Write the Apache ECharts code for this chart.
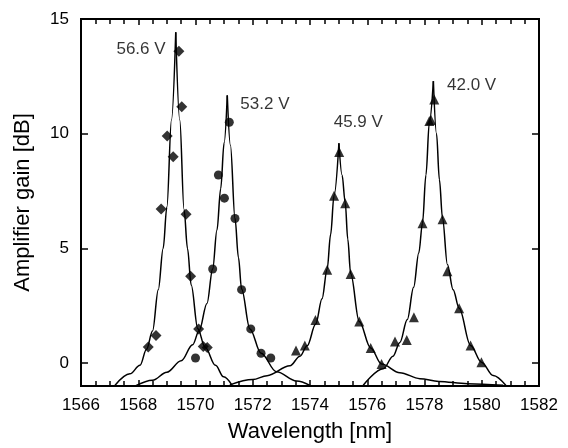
<!DOCTYPE html>
<html>
<head>
<meta charset="utf-8">
<script src="https://cdn.jsdelivr.net/npm/echarts@6/dist/echarts.min.js"></script>
<style>html,body{margin:0;padding:0;background:#fff}#c{width:568px;height:448px}</style>
</head>
<body>
<div id="c"></div>
<script>
// ---- data ----
const xTickLabels = [1566,1568,1570,1572,1574,1576,1578,1580,1582];
const yTickLabels = [0,5,10,15];

// measured points
const pts566 = [[1568.35,0.70],[1568.62,1.20],[1568.80,6.72],[1569.01,9.90],[1569.22,9.00],[1569.42,13.59],[1569.52,11.17],[1569.67,6.49],[1569.83,3.78],[1570.11,1.49],[1570.27,0.72],[1570.41,0.68]];
const pts532 = [[1570.00,0.22],[1570.60,4.10],[1570.80,8.20],[1571.01,7.19],[1571.18,10.50],[1571.38,6.30],[1571.61,3.20],[1571.93,1.49],[1572.29,0.43],[1572.63,0.22]];
const pts459 = [[1573.51,0.55],[1573.82,0.77],[1574.19,1.88],[1574.60,4.07],[1574.84,7.29],[1575.02,9.20],[1575.23,6.97],[1575.42,3.88],[1575.72,1.81],[1576.12,0.66],[1576.50,-0.04]];
const pts420 = [[1576.97,0.94],[1577.38,1.01],[1577.63,2.00],[1577.93,6.09],[1578.17,10.55],[1578.23,10.60],[1578.34,11.49],[1578.63,6.27],[1578.80,4.00],[1579.21,2.39],[1579.61,0.77],[1579.99,0.04]];

// fitted curves
const fit566 = [[1567.19,-0.97],[1567.71,-0.47],[1568.06,-0.10],[1568.29,0.60],[1568.50,1.40],[1568.70,3.20],[1568.87,5.00],[1569.00,6.80],[1569.16,10.60],[1569.31,14.42],
                [1569.45,10.60],[1569.60,6.70],[1569.72,5.00],[1569.85,3.40],[1570.08,1.50],[1570.33,0.70],[1570.70,-0.10],[1570.98,-0.60],[1571.28,-0.97]];
const fit532 = [[1567.90,-1.00],[1568.50,-0.75],[1569.00,-0.40],[1569.50,0.10],[1569.90,0.80],[1570.13,1.42],[1570.40,2.60],[1570.60,4.10],[1570.75,5.80],[1570.88,7.60],[1571.00,9.60],[1571.11,11.67],
                [1571.22,9.50],[1571.38,6.30],[1571.50,4.60],[1571.61,3.23],[1571.90,1.49],[1572.29,0.43],[1572.83,-0.38],[1573.53,-0.78],[1574.00,-0.97]];
const fit459 = [[1571.20,-0.95],[1572.00,-0.72],[1572.50,-0.55],[1573.30,-0.12],[1573.65,0.30],[1573.90,0.75],[1574.20,1.70],[1574.42,2.80],[1574.60,4.10],[1574.72,5.60],[1574.84,7.30],[1575.01,9.58],
                [1575.12,8.20],[1575.23,7.00],[1575.32,5.40],[1575.42,3.90],[1575.72,1.81],[1576.12,0.66],[1576.50,-0.04],[1577.14,-0.42],[1577.84,-0.68],[1578.50,-0.80],[1579.50,-0.90],[1580.75,-0.97]];
const fit420 = [[1575.86,-0.97],[1576.56,-0.25],[1576.90,0.30],[1577.14,0.90],[1577.40,1.90],[1577.62,3.30],[1577.80,4.80],[1577.93,6.10],[1578.05,8.20],[1578.17,10.50],[1578.31,12.29],
                [1578.42,10.00],[1578.52,8.00],[1578.63,6.30],[1578.80,4.30],[1579.00,3.20],[1579.21,2.39],[1579.61,0.77],[1579.99,0.04],[1580.40,-0.54],[1580.84,-0.97]];

const annotations = [[1567.22,13.70,'56.6 V'],[1571.55,11.27,'53.2 V'],[1574.81,10.48,'45.9 V'],[1578.77,12.10,'42.0 V']];

// ---- chart ----
const FONT = "'Liberation Sans', Arial, sans-serif";
function halves(arr){
  let k = 0;
  arr.forEach((p,i)=>{ if (p[1] > arr[k][1]) k = i; });
  return [arr.slice(0,k+1), arr.slice(k)];
}
const series = [];
[fit566, fit532, fit459, fit420].forEach(f=>{
  halves(f).forEach(h=>{
    series.push({type:'line', data:h, smooth:0.35, smoothMonotone:'x', symbol:'none',
      lineStyle:{color:'#000', width:1.5}, silent:true});
  });
});
const mk = (data, symbol, size) => ({type:'scatter', data, symbol, symbolSize:size,
  itemStyle:{color:'#000'}, z:5, silent:true});
series.push(mk(pts566,'diamond',11));
series.push(mk(pts532,'circle',9));
series.push(mk(pts459,'triangle',10));
series.push(mk(pts420,'triangle',10));
series.push({type:'scatter', data:annotations.map(a=>({value:[a[0],a[1]], name:a[2]})), symbolSize:1, silent:true,
  itemStyle:{color:'rgba(0,0,0,0)'},
  label:{show:true, position:'right', distance:0, formatter:p=>p.name,
    color:'#000', fontSize:17, fontFamily:FONT}});

const LW = 2, TW = 1.5;
const option = {
  animation:false,
  grid:{left:81, right:29, top:19, bottom:61, show:true, borderColor:'#000', borderWidth:LW},
  xAxis:[
    {type:'value', min:1566, max:1582, interval:2,
     axisLine:{show:true, onZero:false, lineStyle:{color:'#000', width:LW}},
     splitLine:{show:false},
     axisTick:{show:true, inside:true, length:6, lineStyle:{color:'#000', width:TW}},
     minorTick:{show:true, splitNumber:4, length:5, lineStyle:{color:'#000', width:TW}},
     axisLabel:{color:'#000', fontSize:17, fontFamily:FONT, margin:11, formatter:v=>String(v)},
     name:'Wavelength [nm]', nameLocation:'middle', nameGap:35,
     nameTextStyle:{color:'#000', fontSize:22, fontFamily:FONT}},
    {type:'value', position:'top', min:1566, max:1582, interval:2,
     axisLine:{show:true, onZero:false, lineStyle:{color:'#000', width:LW}},
     splitLine:{show:false},
     axisTick:{show:true, inside:true, length:6, lineStyle:{color:'#000', width:TW}},
     minorTick:{show:true, splitNumber:4, length:5, lineStyle:{color:'#000', width:TW}},
     axisLabel:{show:false}}
  ],
  yAxis:[
    {type:'value', min:-1, max:15,
     axisLine:{show:true, onZero:false, lineStyle:{color:'#000', width:LW}},
     splitLine:{show:false},
     axisTick:{show:true, inside:true, length:7, customValues:yTickLabels, lineStyle:{color:'#000', width:TW}},
     axisLabel:{color:'#000', fontSize:17, fontFamily:FONT, margin:12, customValues:yTickLabels},
     name:'Amplifier gain [dB]', nameLocation:'middle', nameGap:47,
     nameTextStyle:{color:'#000', fontSize:22, fontFamily:FONT}},
    {type:'value', position:'right', min:-1, max:15,
     axisLine:{show:true, onZero:false, lineStyle:{color:'#000', width:LW}},
     splitLine:{show:false},
     axisTick:{show:true, inside:true, length:7, customValues:[0,5,10], lineStyle:{color:'#000', width:TW}},
     axisLabel:{show:false}}
  ],
  series
};
const chart = echarts.init(document.getElementById('c'));
chart.setOption(option);
</script>
</body>
</html>
